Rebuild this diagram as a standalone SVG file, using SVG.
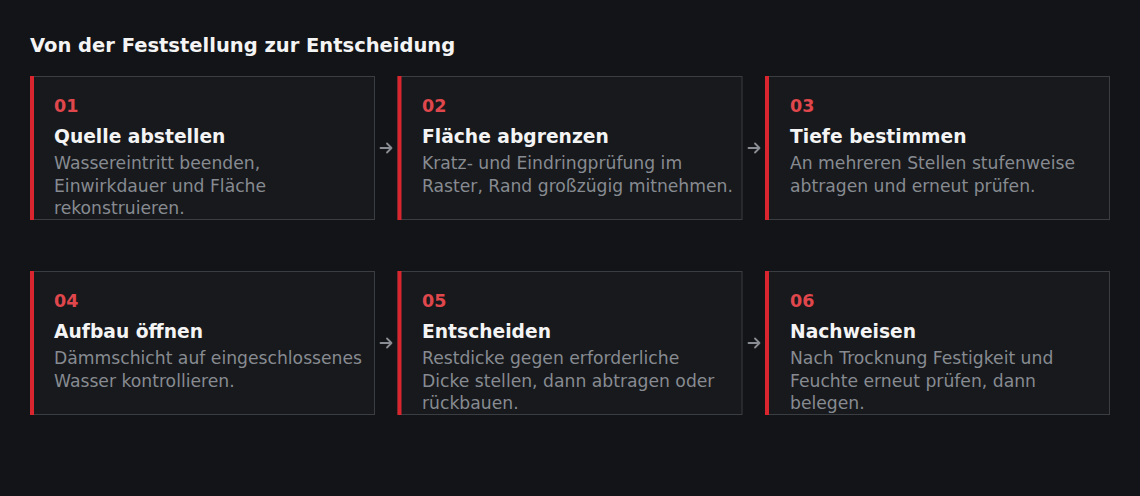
<svg xmlns="http://www.w3.org/2000/svg" width="1140" height="496" viewBox="0 0 1140 496">
<style>
.bg{fill:#131417}
.box{fill:#17191c;stroke:#3a3d42;stroke-width:1}
.bar{fill:#d9262e}
text{font-family:"DejaVu Sans",sans-serif}
.h{font-size:19.5px;font-weight:bold;fill:#f4f4f4}
.num{font-size:17.5px;font-weight:bold;fill:#e0474c}
.t{font-size:18.7px;font-weight:bold;fill:#f4f4f4}
.b{font-size:17.2px;fill:#878b91}
.arr{fill:none;stroke:#8a8e94;stroke-width:1.8;stroke-linecap:round;stroke-linejoin:round}
</style>
<rect class="bg" x="0" y="0" width="1140" height="496"/>
<text class="h" x="30" y="52">Von der Feststellung zur Entscheidung</text>
<g id="n1">
<rect class="box" x="30.5" y="76.5" width="344" height="143"/>
<rect class="bar" x="30" y="76" width="4" height="144"/>
<text class="num" x="54" y="112">01</text>
<text class="t" x="54" y="142.5">Quelle abstellen</text>
<text class="b" x="54" y="169">Wassereintritt beenden,</text>
<text class="b" x="54" y="191.5">Einwirkdauer und Fläche</text>
<text class="b" x="54" y="214">rekonstruieren.</text>
</g>
<g id="n2">
<rect class="box" x="398" y="76.5" width="344" height="143"/>
<rect class="bar" x="397.5" y="76" width="4" height="144"/>
<text class="num" x="422" y="112">02</text>
<text class="t" x="422" y="142.5">Fläche abgrenzen</text>
<text class="b" x="422" y="169">Kratz- und Eindringprüfung im</text>
<text class="b" x="422" y="191.5">Raster, Rand großzügig mitnehmen.</text>
</g>
<g id="n3">
<rect class="box" x="765.5" y="76.5" width="344" height="143"/>
<rect class="bar" x="765" y="76" width="4" height="144"/>
<text class="num" x="790" y="112">03</text>
<text class="t" x="790" y="142.5">Tiefe bestimmen</text>
<text class="b" x="790" y="169">An mehreren Stellen stufenweise</text>
<text class="b" x="790" y="191.5">abtragen und erneut prüfen.</text>
</g>
<g id="n4">
<rect class="box" x="30.5" y="271.5" width="344" height="143"/>
<rect class="bar" x="30" y="271" width="4" height="144"/>
<text class="num" x="54" y="307">04</text>
<text class="t" x="54" y="337.5">Aufbau öffnen</text>
<text class="b" x="54" y="364">Dämmschicht auf eingeschlossenes</text>
<text class="b" x="54" y="386.5">Wasser kontrollieren.</text>
</g>
<g id="n5">
<rect class="box" x="398" y="271.5" width="344" height="143"/>
<rect class="bar" x="397.5" y="271" width="4" height="144"/>
<text class="num" x="422" y="307">05</text>
<text class="t" x="422" y="337.5">Entscheiden</text>
<text class="b" x="422" y="364">Restdicke gegen erforderliche</text>
<text class="b" x="422" y="386.5">Dicke stellen, dann abtragen oder</text>
<text class="b" x="422" y="409">rückbauen.</text>
</g>
<g id="n6">
<rect class="box" x="765.5" y="271.5" width="344" height="143"/>
<rect class="bar" x="765" y="271" width="4" height="144"/>
<text class="num" x="790" y="307">06</text>
<text class="t" x="790" y="337.5">Nachweisen</text>
<text class="b" x="790" y="364">Nach Trocknung Festigkeit und</text>
<text class="b" x="790" y="386.5">Feuchte erneut prüfen, dann</text>
<text class="b" x="790" y="409">belegen.</text>
</g>
<g id="connectors">
<path class="arr" d="M380.5 148H391.5M387 143.5L391.5 148L387 152.5"/>
<path class="arr" d="M748.5 148H759.5M755 143.5L759.5 148L755 152.5"/>
<path class="arr" d="M380.5 343H391.5M387 338.5L391.5 343L387 347.5"/>
<path class="arr" d="M748.5 343H759.5M755 338.5L759.5 343L755 347.5"/>
</g>
</svg>
